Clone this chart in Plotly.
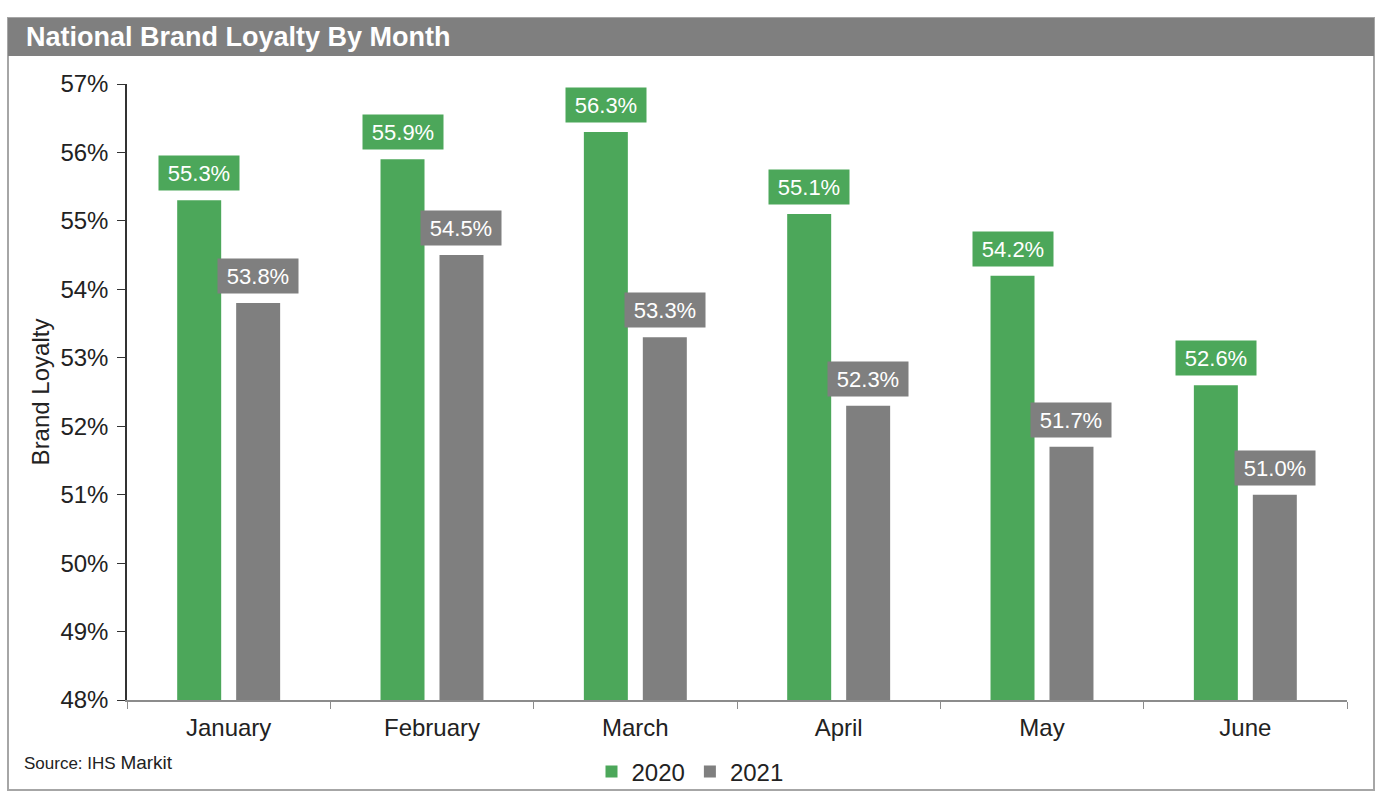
import plotly.graph_objects as go

months = ["January", "February", "March", "April", "May", "June"]
loyalty_2020 = [55.3, 55.9, 56.3, 55.1, 54.2, 52.6]
loyalty_2021 = [53.8, 54.5, 53.3, 52.3, 51.7, 51.0]
y_ticks = [48, 49, 50, 51, 52, 53, 54, 55, 56, 57]
y_tick_labels = [f"{v}%" for v in y_ticks]

GREEN = "#4CA75A"
GRAY = "#7F7F7F"
W, H = 1382, 804
L, R, T, B = 127, 35, 84, 104
PW, PH = W - L - R, H - T - B

def px_x(p):
    return (p - L) / PW

def px_y(p):
    return (H - B - p) / PH

FONT = "Arial, Liberation Sans, sans-serif"

fig = go.Figure()
fig.add_trace(go.Bar(x=months, y=loyalty_2020, name="2020", marker_color=GREEN,
                     marker_line_width=0))
fig.add_trace(go.Bar(x=months, y=loyalty_2021, name="2021", marker_color=GRAY,
                     marker_line_width=0))

slot = PW / 6 * 0.58 / 2
annotations = []
for vals, col, sh in [(loyalty_2020, GREEN, -slot / 2), (loyalty_2021, GRAY, slot / 2)]:
    for m, v in zip(months, vals):
        annotations.append(dict(
            x=m, y=v, xref="x", yref="y", text=f"{v:.1f}%", showarrow=False,
            xshift=sh, yanchor="bottom", yshift=9,
            font=dict(family=FONT, size=22, color="white"),
            bgcolor=col, borderpad=4, width=72, height=26,
        ))

annotations.append(dict(
    x=px_x(24), y=px_y(37), xref="paper", yref="paper", xanchor="left", yanchor="middle",
    text="<b>National Brand Loyalty By Month</b>", showarrow=False,
    font=dict(family=FONT, size=27, color="white")))
annotations.append(dict(
    x=px_x(22), y=px_y(762), xref="paper", yref="paper", xanchor="left", yanchor="middle",
    text="Source: IHS <span style='font-size:19px'>Markit</span>", showarrow=False,
    font=dict(family=FONT, size=17, color="#222")))

shapes = [
    dict(type="rect", xref="paper", yref="paper", x0=px_x(8), x1=px_x(1374),
         y0=px_y(790), y1=px_y(18), line=dict(color="#A6A6A6", width=2),
         fillcolor="rgba(0,0,0,0)", layer="below"),
    dict(type="rect", xref="paper", yref="paper", x0=px_x(8), x1=px_x(1374),
         y0=px_y(56), y1=px_y(18), line=dict(width=0), fillcolor=GRAY, layer="below"),
]

fig.update_layout(
    width=W, height=H,
    margin=dict(l=L, r=R, t=T, b=B, autoexpand=False),
    paper_bgcolor="white", plot_bgcolor="white",
    barmode="group", bargap=0.42, bargroupgap=0.254,
    font=dict(family=FONT, color="#222"),
    annotations=annotations, shapes=shapes,
    legend=dict(orientation="h", x=px_x(690), xanchor="center", y=px_y(772), yanchor="middle",
                font=dict(size=24), itemwidth=30, traceorder="normal",
                bgcolor="rgba(0,0,0,0)"),
    xaxis=dict(showline=True, linecolor="#8C8C8C", linewidth=1.5, ticks="outside",
               tickson="boundaries", ticklen=7, tickcolor="#8C8C8C",
               tickfont=dict(size=24), showgrid=False, ticklabelstandoff=5),
    yaxis=dict(range=[48, 57], tickvals=y_ticks, ticktext=y_tick_labels, showline=True,
               linecolor="#333", linewidth=1.5, ticks="outside", ticklen=8,
               tickcolor="#333", tickfont=dict(size=24), showgrid=False, zeroline=False,
               ticklabelstandoff=4,
               title=dict(text="Brand Loyalty", font=dict(size=24), standoff=4)),
)

fig.write_html("out.html", config={"displayModeBar": False},
               post_script="document.body.style.margin='0';document.body.style.overflow='hidden';")
